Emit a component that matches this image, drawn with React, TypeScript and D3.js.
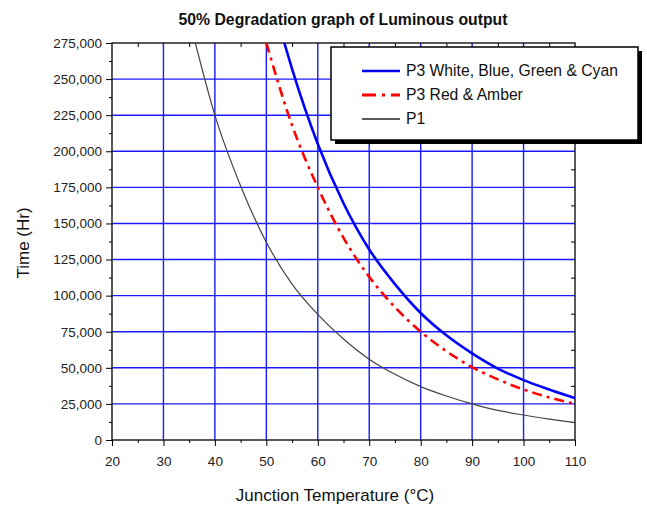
import React, { useEffect, useRef } from 'react';
import * as d3 from 'd3';

// values (temp in degC, time in hours)
const blueTemps = [53.5, 55, 60, 65, 70, 75, 80, 85, 90, 95, 100, 105, 110];
const blueHours = [275000, 257000, 205000, 164000, 132000, 108000, 88000, 72500, 60000, 49500, 41500, 35000, 29000];

const redTemps = [50, 55, 60, 65, 70, 75, 80, 85, 90, 95, 100, 105, 110];
const redHours = [275000, 218000, 175000, 140000, 113000, 92000, 75000, 61500, 50500, 42000, 35000, 29500, 25000];

const blackTemps = [36.2, 40, 45, 50, 55, 60, 65, 70, 75, 80, 85, 90, 95, 100, 105, 110];
const blackHours = [275000, 225000, 176000, 137000, 108000, 87000, 70000, 56000, 45500, 37000, 30500, 25000, 20500, 17300, 14500, 12000];

const xTicks = [20, 30, 40, 50, 60, 70, 80, 90, 100, 110];
const yTicks = [0, 25000, 50000, 75000, 100000, 125000, 150000, 175000, 200000, 225000, 250000, 275000];

const legendNames = ['P3 White, Blue, Green & Cyan', 'P3 Red & Amber', 'P1'];

const W = 647, H = 508;

export default function App() {
  const ref = useRef<SVGSVGElement>(null);

  useEffect(() => {
    const svg = d3.select(ref.current);
    svg.selectAll('*').remove();

    const margin = { top: 43, right: 72, bottom: 68, left: 112 };
    const x = d3.scaleLinear().domain([20, 110]).range([margin.left, W - margin.right]);
    const y = d3.scaleLinear().domain([0, 275000]).range([H - margin.bottom, margin.top]);
    const font = 'Arial, "Liberation Sans", sans-serif';

    svg.append('defs').append('clipPath').attr('id', 'clip')
      .append('rect')
      .attr('x', x(20)).attr('y', y(275000))
      .attr('width', x(110) - x(20)).attr('height', y(0) - y(275000));

    // grid
    const grid = svg.append('g');
    grid.selectAll('line.v').data(xTicks.slice(1, -1)).enter().append('line')
      .attr('x1', d => x(d)).attr('x2', d => x(d))
      .attr('y1', y(0)).attr('y2', y(275000))
      .attr('stroke', '#1a1aff').attr('stroke-width', 1.4);
    grid.selectAll('line.h').data(yTicks.slice(1, -1)).enter().append('line')
      .attr('y1', d => y(d)).attr('y2', d => y(d))
      .attr('x1', x(20)).attr('x2', x(110))
      .attr('stroke', '#1a1aff').attr('stroke-width', 1.4);

    const xMinor = d3.range(25, 110, 10);
    const yMinor = d3.range(12500, 275000, 25000);

    // axes
    const fmt = d3.format(',');
    const left = svg.append('g').attr('transform', `translate(${x(20)},0)`)
      .call(d3.axisLeft(y).tickValues(yTicks).tickFormat(d => fmt(d as number)).tickSize(6).tickPadding(4));
    svg.append('g').attr('transform', `translate(${x(20)},0)`)
      .call(d3.axisLeft(y).tickValues(yMinor).tickFormat(() => '').tickSize(3));
    const bottom = svg.append('g').attr('transform', `translate(0,${y(0)})`)
      .call(d3.axisBottom(x).tickValues(xTicks).tickSize(6).tickPadding(10));
    svg.append('g').attr('transform', `translate(0,${y(0)})`)
      .call(d3.axisBottom(x).tickValues(xMinor).tickFormat(() => '').tickSize(3));
    svg.append('g').attr('transform', `translate(0,${y(275000)})`)
      .call(d3.axisTop(x).tickValues(xMinor).tickFormat(() => '').tickSize(-4));
    svg.append('g').attr('transform', `translate(${x(110)},0)`)
      .call(d3.axisRight(y).tickValues(yMinor).tickFormat(() => '').tickSize(-4));

    [left, bottom].forEach(g => {
      g.selectAll('text').attr('font-family', font).attr('font-size', 13.5).attr('fill', '#222');
    });
    svg.selectAll('.domain').attr('stroke', 'none');
    svg.selectAll('.tick line').attr('stroke', '#000');

    // frame
    svg.append('rect')
      .attr('x', x(20)).attr('y', y(275000))
      .attr('width', x(110) - x(20)).attr('height', y(0) - y(275000))
      .attr('fill', 'none').attr('stroke', '#000').attr('stroke-width', 1.3);

    // curves
    const line = d3.line<[number, number]>()
      .x(d => x(d[0])).y(d => y(d[1]))
      .curve(d3.curveMonotoneX);
    const plot = svg.append('g').attr('clip-path', 'url(#clip)');

    plot.append('path')
      .attr('d', line(blackTemps.map((t, i) => [t, blackHours[i]] as [number, number])))
      .attr('fill', 'none').attr('stroke', '#444').attr('stroke-width', 1.2);
    plot.append('path')
      .attr('d', line(redTemps.map((t, i) => [t, redHours[i]] as [number, number])))
      .attr('fill', 'none').attr('stroke', '#ff0000').attr('stroke-width', 2.6)
      .attr('stroke-dasharray', '10,5,3,5');
    plot.append('path')
      .attr('d', line(blueTemps.map((t, i) => [t, blueHours[i]] as [number, number])))
      .attr('fill', 'none').attr('stroke', '#0000ff').attr('stroke-width', 2.6);

    // legend
    const lg = svg.append('g').attr('transform', 'translate(331,47)');
    lg.append('rect').attr('x', 4).attr('y', 4).attr('width', 307).attr('height', 93).attr('fill', '#000');
    lg.append('rect').attr('x', 0).attr('y', 0).attr('width', 307).attr('height', 93)
      .attr('fill', '#fff').attr('stroke', '#000').attr('stroke-width', 1.5);
    const styles = [
      { c: '#0000ff', w: 2.6, dash: null },
      { c: '#ff0000', w: 3, dash: '14,6,3,6' },
      { c: '#222', w: 1.3, dash: null },
    ];
    legendNames.forEach((name, i) => {
      const yy = 24 + i * 24;
      lg.append('line').attr('x1', 31).attr('x2', 69).attr('y1', yy).attr('y2', yy)
        .attr('stroke', styles[i].c).attr('stroke-width', styles[i].w)
        .attr('stroke-dasharray', styles[i].dash);
      lg.append('text').attr('x', 75).attr('y', yy + 5).text(name)
        .attr('font-family', font).attr('font-size', 15.7).attr('fill', '#111');
    });

    // titles
    svg.append('text').attr('x', 343).attr('y', 25).attr('text-anchor', 'middle')
      .attr('font-family', font).attr('font-size', 15.8).attr('font-weight', 'bold')
      .attr('fill', '#111').text('50% Degradation graph of Luminous output');
    svg.append('text').attr('x', 335).attr('y', 501).attr('text-anchor', 'middle')
      .attr('font-family', font).attr('font-size', 17).attr('fill', '#111')
      .text('Junction Temperature (°C)');
    svg.append('text').attr('transform', 'translate(29,243) rotate(-90)').attr('text-anchor', 'middle')
      .attr('font-family', font).attr('font-size', 17).attr('fill', '#111')
      .text('Time (Hr)');
  }, []);

  return (
    <svg ref={ref} width={W} height={H}
      style={{ position: 'absolute', left: 0, top: 0, background: '#fff' }} />
  );
}
